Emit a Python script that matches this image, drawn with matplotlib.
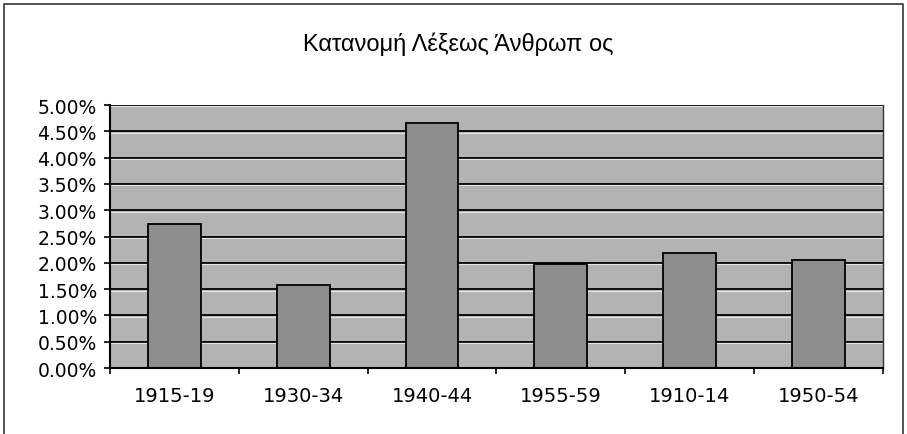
import matplotlib.pyplot as plt
import numpy as np
from matplotlib.lines import Line2D
from matplotlib.ticker import FuncFormatter

categories = ["1915-19", "1930-34", "1940-44", "1955-59", "1910-14", "1950-54"]
values = [0.0274, 0.0158, 0.0466, 0.0198, 0.0219, 0.0205]
y_ticks = np.arange(0, 0.0501, 0.005)

fig = plt.figure(figsize=(9.07, 4.35), dpi=100)
ax = fig.add_axes([0.1213, 0.1517, 0.852, 0.6046])

# outer chart border (open at the bottom, cropped in the scan)
fig.lines.append(Line2D([0.0045, 0.0045, 0.9955, 0.9955], [0.0, 0.988, 0.988, 0.0],
                        transform=fig.transFigure, color="#444444", linewidth=1.3))

ax.set_facecolor("#b3b3b3")
x = np.arange(len(categories))
ax.set_xlim(-0.5, len(categories) - 0.5)
ax.set_ylim(0, 0.05)

for t in y_ticks[1:]:
    ax.axhline(t, color="black", linewidth=1.3, zorder=1)
    ax.axhline(t - 0.00028, color="#e6e6e6", linewidth=0.8, zorder=1)

ax.bar(x, values, width=0.41, color="#8e8e8e", edgecolor="black", linewidth=1.3, zorder=2)

ax.set_yticks(y_ticks)
ax.yaxis.set_major_formatter(FuncFormatter(lambda v, p: f"{v * 100:.2f}%"))
ax.set_xticks(x)
ax.set_xticklabels(categories)
ax.set_xticks(np.arange(-0.5, len(categories), 1), minor=True)
ax.tick_params(axis="x", which="major", length=0, pad=13, labelsize=14)
ax.tick_params(axis="x", which="minor", length=4.5, width=1.2, direction="out")
ax.tick_params(axis="y", length=4.5, width=1.2, labelsize=13.5, pad=5)

for side in ["left", "bottom"]:
    ax.spines[side].set_linewidth(1.5)
ax.spines["top"].set_visible(False)
ax.spines["right"].set_linewidth(1.0)
ax.spines["right"].set_color("#333333")

fig.text(0.505, 0.898, "Κατανομή Λέξεως Άνθρωπ ος", ha="center", va="center",
         fontsize=17, family="Liberation Sans")

fig.savefig("out.png", dpi=100)
